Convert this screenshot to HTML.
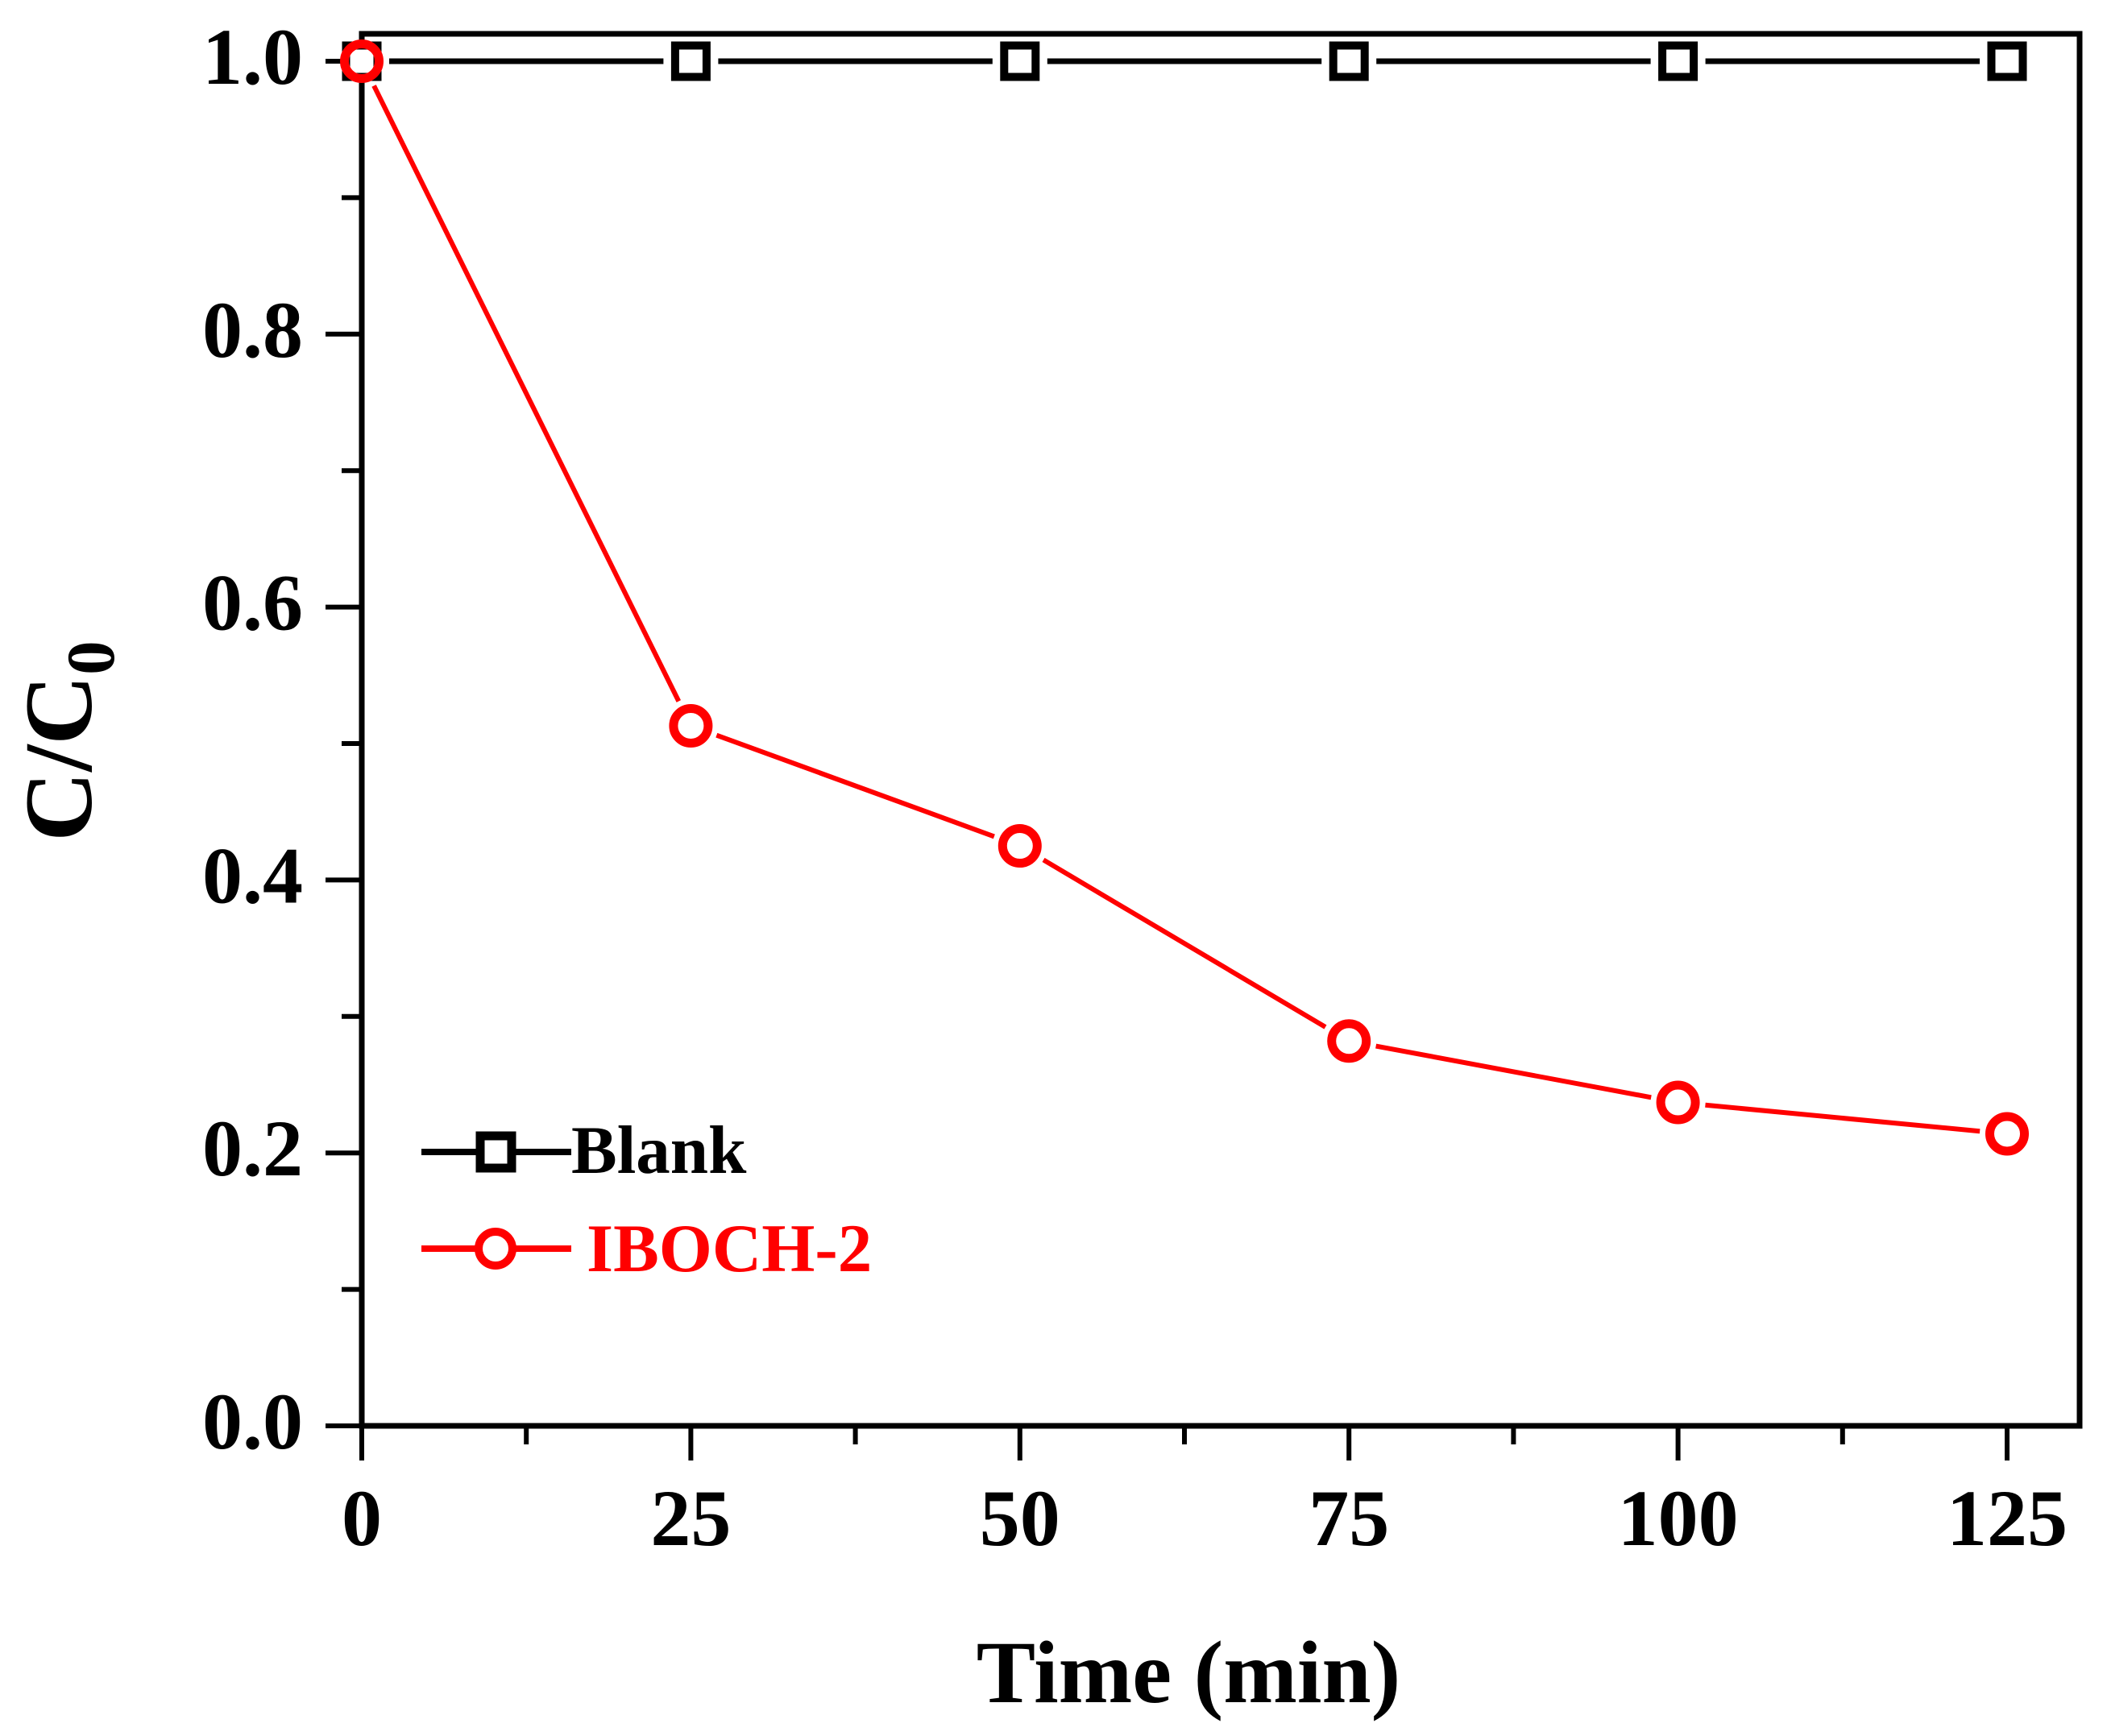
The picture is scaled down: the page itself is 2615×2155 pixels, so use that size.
<!DOCTYPE html>
<html><head><meta charset="utf-8"><style>
html,body{margin:0;padding:0;background:#fff;}
svg{display:block;font-family:"Liberation Serif",serif;font-weight:bold;}
</style></head><body>
<svg id="chart" width="2615" height="2155" viewBox="0 0 2615 2155" xmlns="http://www.w3.org/2000/svg">
<g id="axes"></g>
<g id="series"></g>
<g id="legend">
  <line x1="523" y1="1430" x2="709" y2="1430" stroke="#000" stroke-width="8"/>
  <rect x="596" y="1410" width="39" height="40" fill="#fff" stroke="#000" stroke-width="11"/>
  <text x="709" y="1456" font-size="85" fill="#000">Blank</text>
  <line x1="523" y1="1550" x2="709" y2="1550" stroke="#ff0000" stroke-width="8"/>
  <circle cx="615" cy="1550" r="21" fill="#fff" stroke="#ff0000" stroke-width="10"/>
  <text x="728" y="1578" font-size="85" fill="#ff0000">IBOCH-2</text>
</g>
<text x="1475" y="2113" font-size="110" text-anchor="middle">Time (min)</text>
<text transform="translate(113,920) rotate(-90)" font-size="120" text-anchor="middle">C/C<tspan font-size="85" dy="28">0</tspan></text>
</svg>
<script>
const times = [0, 25, 50, 75, 100, 125];
const blankValues = [1, 1, 1, 1, 1, 1];
const ibochValues = [1, 0.513, 0.425, 0.282, 0.237, 0.214];
const xTickLabels = ["0", "25", "50", "75", "100", "125"];
const yTickLabels = ["0.0", "0.2", "0.4", "0.6", "0.8", "1.0"];

const NS = "http://www.w3.org/2000/svg";
const X0 = 449, X1 = 2491, Y0 = 1770, Y1 = 76;
function sx(t){ return X0 + (t - 0) / 125 * (X1 - X0); }
function sy(v){ return Y0 - v * (Y0 - Y1); }
function mk(tag, attrs, parent){
  const e = document.createElementNS(NS, tag);
  for (const k in attrs) e.setAttribute(k, attrs[k]);
  parent.appendChild(e);
  return e;
}
const axes = document.getElementById('axes');
const series = document.getElementById('series');

const frame = mk('rect', {x: X0, y: 42, width: 2581 - X0, height: Y0 - 42, fill: 'none', stroke: '#000', 'stroke-width': 7}, axes);



for (let i = 0; i <= 10; i++) {
  const v = i * 0.1;
  const major = i % 2 === 0;
  const t = mk('line', {x1: X0 - (major ? 45 : 25), x2: X0, y1: sy(v), y2: sy(v), stroke: '#000', 'stroke-width': 6}, axes);
  
  
}
yTickLabels.forEach((lab, i) => {
  const t = mk('text', {x: 376, y: sy(i * 0.2) + 28, 'font-size': 100, 'text-anchor': 'end'}, axes);
  t.textContent = lab;
  
  
});
for (let i = 0; i <= 10; i++) {
  const tv = i * 12.5;
  const major = i % 2 === 0;
  const t = mk('line', {x1: sx(tv), x2: sx(tv), y1: Y0, y2: Y0 + (major ? 43 : 23), stroke: '#000', 'stroke-width': 6}, axes);
  
  
}
xTickLabels.forEach((lab, i) => {
  const t = mk('text', {x: sx(times[i]), y: 1918, 'font-size': 100, 'text-anchor': 'middle'}, axes);
  t.textContent = lab;
  
  
});

function drawSeries(vals, color, gap, width, name){
  for (let i = 0; i < vals.length - 1; i++) {
    const ax = sx(times[i]), ay = sy(vals[i]), bx = sx(times[i+1]), by = sy(vals[i+1]);
    const dx = bx - ax, dy = by - ay, L = Math.hypot(dx, dy);
    const ux = dx / L, uy = dy / L;
    const s = mk('line', {x1: ax + ux * gap, y1: ay + uy * gap, x2: bx - ux * gap, y2: by - uy * gap, stroke: color, 'stroke-width': width}, series);
    
    
  }
}
drawSeries(blankValues, '#000', 34, 7, 'blank');
drawSeries(ibochValues, '#ff0000', 34, 6, 'iboch');

blankValues.forEach((v, i) => {
  const r = mk('rect', {x: sx(times[i]) - 19.5, y: sy(v) - 19.5, width: 39, height: 39, fill: '#fff', stroke: '#000', 'stroke-width': 10}, series);
  
  
});
ibochValues.forEach((v, i) => {
  const c = mk('circle', {cx: sx(times[i]), cy: sy(v), r: 21.5, fill: 'none', stroke: '#ff0000', 'stroke-width': 11}, series);
  
  
});
</script>
</body></html>
